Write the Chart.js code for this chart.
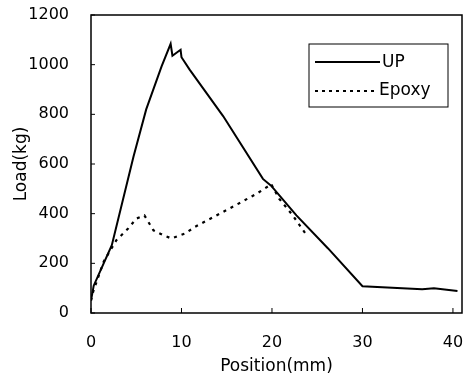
<!DOCTYPE html>
<html lang="en">
<head>
    <meta charset="UTF-8">
    <title>Load vs Position</title>
    <script src="https://cdn.jsdelivr.net/npm/chart.js"></script>
    <style>
        html, body { margin: 0; padding: 0; background: #fff; }
        #wrap { width: 465px; height: 381px; }
    </style>
</head>
<body>
<div id="wrap"><canvas id="loadChart"></canvas></div>
<script>
    // UP series (position mm, load kg)
    const upPos  = [0, 0.3, 2.3, 4.7, 6.1, 7.8, 8.8, 9.0, 9.9, 10.0, 10.9, 14.6, 19.0, 19.9, 22.7, 26.2, 30.0, 36.6, 37.9, 40.5];
    const upLoad = [50, 110, 273, 630, 820, 993, 1084, 1036, 1060, 1030, 980, 793, 540, 513, 393, 260, 108, 96, 100, 89];

    // Epoxy series
    const epoxyPos  = [0, 0.25, 1.4, 2.8, 4.1, 5.0, 5.9, 6.9, 8.0, 8.9, 10.4, 11.5, 14.6, 18.3, 19.7, 19.9, 20.8, 22.3, 23.7];
    const epoxyLoad = [50, 87, 207, 293, 340, 380, 393, 333, 313, 300, 320, 347, 407, 480, 513, 520, 460, 393, 320];

    const xTicks = [0, 10, 20, 30, 40];
    const yTicks = [0, 200, 400, 600, 800, 1000, 1200];

    const toPoints = (xs, ys) => xs.map((x, i) => ({ x: x, y: ys[i] }));

    // frame, inward ticks and boxed legend
    const framePlugin = {
        id: 'frame',
        afterDraw(chart) {
            const ctx = chart.ctx;
            const a = chart.chartArea;
            const xs = chart.scales.x, ys = chart.scales.y;
            ctx.save();
            ctx.strokeStyle = '#000';
            ctx.lineWidth = 1.5;
            ctx.strokeRect(a.left, a.top, a.right - a.left, a.bottom - a.top);

            ctx.lineWidth = 1;
            xTicks.forEach(v => {
                const px = xs.getPixelForValue(v);
                ctx.beginPath();
                ctx.moveTo(px, a.bottom);
                ctx.lineTo(px, a.bottom - 5);
                ctx.stroke();
            });
            yTicks.forEach(v => {
                const py = ys.getPixelForValue(v);
                ctx.beginPath();
                ctx.moveTo(a.left, py);
                ctx.lineTo(a.left + 4, py);
                ctx.stroke();
            });

            // legend box
            ctx.lineWidth = 1;
            ctx.strokeRect(309, 44, 139, 63);
            ctx.font = '17px "DejaVu Sans"';
            ctx.fillStyle = '#000';
            ctx.textBaseline = 'middle';

            ctx.lineWidth = 2;
            ctx.beginPath();
            ctx.moveTo(315, 62);
            ctx.lineTo(380, 62);
            ctx.stroke();
            ctx.fillText('UP', 382, 63);

            ctx.setLineDash([3, 4]);
            ctx.beginPath();
            ctx.moveTo(315, 91);
            ctx.lineTo(377, 91);
            ctx.stroke();
            ctx.setLineDash([]);
            ctx.fillText('Epoxy', 379, 91);
            ctx.restore();
        }
    };

    new Chart(document.getElementById('loadChart'), {
        type: 'scatter',
        data: {
            datasets: [
                {
                    label: 'UP',
                    data: toPoints(upPos, upLoad),
                    showLine: true,
                    borderColor: '#000',
                    borderWidth: 2,
                    pointRadius: 0,
                    tension: 0
                },
                {
                    label: 'Epoxy',
                    data: toPoints(epoxyPos, epoxyLoad),
                    showLine: true,
                    borderColor: '#000',
                    borderWidth: 2.2,
                    borderDash: [3, 5],
                    pointRadius: 0,
                    tension: 0
                }
            ]
        },
        options: {
            responsive: true,
            maintainAspectRatio: false,
            animation: false,
            layout: { padding: { left: 0, right: 3, top: 15, bottom: 0 } },
            plugins: {
                legend: { display: false },
                tooltip: { enabled: false }
            },
            scales: {
                x: {
                    type: 'linear',
                    min: 0,
                    max: 41,
                    afterBuildTicks: axis => { axis.ticks = xTicks.map(v => ({ value: v })); },
                    afterFit: axis => {
                        axis.height = 381 - 313;
                        axis.paddingLeft = 0;
                        axis.paddingRight = 0;
                    },
                    grid: { display: false },
                    border: { display: false },
                    ticks: { color: '#000', padding: 12, font: { family: 'DejaVu Sans', size: 16 } },
                    title: {
                        display: true,
                        text: 'Position(mm)',
                        color: '#000',
                        padding: { top: 5 },
                        font: { family: 'DejaVu Sans', size: 17 }
                    }
                },
                y: {
                    min: 0,
                    max: 1200,
                    afterBuildTicks: axis => { axis.ticks = yTicks.map(v => ({ value: v })); },
                    afterFit: axis => {
                        axis.width = 91;
                        axis.paddingTop = 0;
                        axis.paddingBottom = 0;
                    },
                    grid: { display: false },
                    border: { display: false },
                    ticks: {
                        color: '#000',
                        padding: 14,
                        font: { family: 'DejaVu Sans', size: 16 },
                        callback: v => String(v)
                    },
                    title: {
                        display: true,
                        text: 'Load(kg)',
                        color: '#000',
                        padding: { top: 11, bottom: 8 },
                        font: { family: 'DejaVu Sans', size: 17 }
                    }
                }
            }
        },
        plugins: [framePlugin]
    });
</script>
</body>
</html>
